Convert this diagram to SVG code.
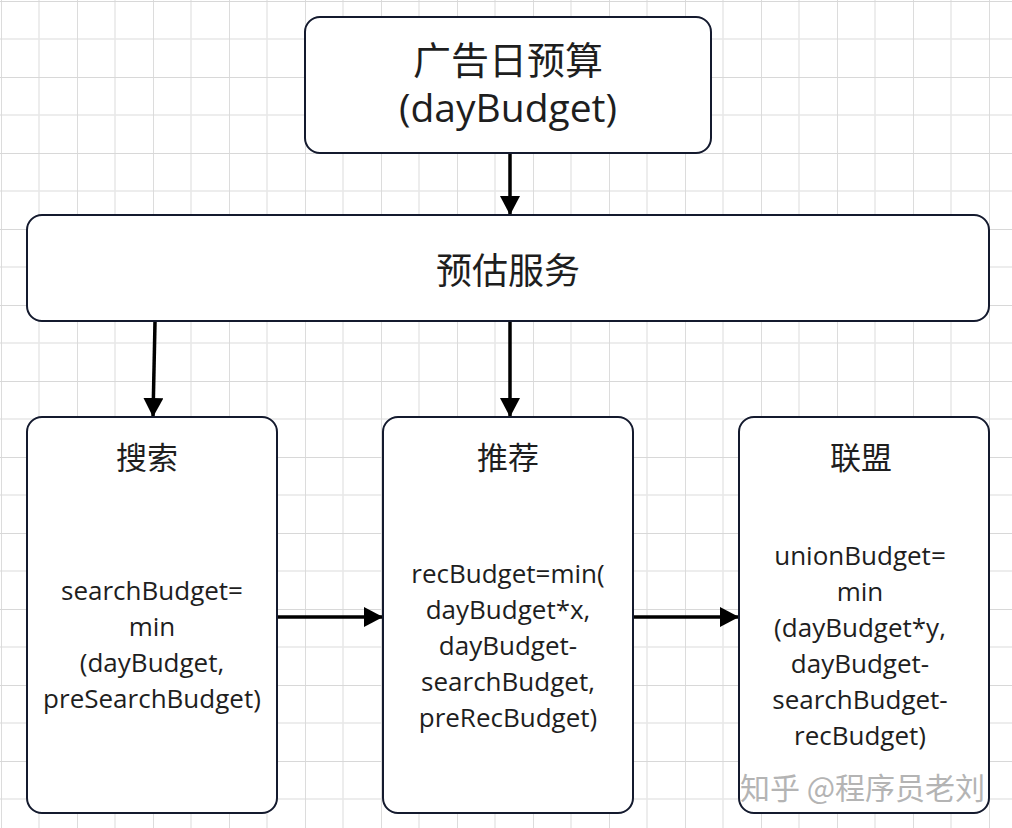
<svg xmlns="http://www.w3.org/2000/svg" width="1012" height="828" viewBox="0 0 1012 828">
  <style>
    .box { fill: #ffffff; stroke: #141a2e; stroke-width: 2; }
    .t { font-family: "Open Sans", "Noto Sans CJK SC", sans-serif; fill: #1e1e1e; text-anchor: middle; }
    .title { font-size: 38px; }
    .head { font-size: 31px; }
    .body { font-size: 26px; }
    .conn { stroke: #000; stroke-width: 3.5; fill: none; }
    .wm { font-family: "Noto Sans CJK SC", sans-serif; font-size: 30px; fill: #b4b4b4; }
  </style>
  <defs>
    <pattern id="grid" x="1" y="1" width="76" height="76" patternUnits="userSpaceOnUse">
      <path d="M38 0 V76 M0 38 H76" stroke="#e8e8e8" stroke-width="1.5" fill="none"/>
      <path d="M0 0 V76 M0 0 H76" stroke="#d8d8d8" stroke-width="1.8" fill="none"/>
    </pattern>
    <marker id="arrow" markerUnits="userSpaceOnUse" markerWidth="22" markerHeight="22" refX="19" refY="10" orient="auto">
      <path d="M0 0 L19 10 L0 20 Z" fill="#000"/>
    </marker>
  </defs>
  <rect width="1012" height="828" fill="#ffffff"/>
  <rect width="1012" height="828" fill="url(#grid)"/>

  <g id="connectors">
    <line class="conn" x1="510" y1="154" x2="510" y2="215" marker-end="url(#arrow)"/>
    <line class="conn" x1="155" y1="322" x2="153" y2="417" marker-end="url(#arrow)"/>
    <line class="conn" x1="510" y1="322" x2="510" y2="417" marker-end="url(#arrow)"/>
    <line class="conn" x1="278" y1="617" x2="383" y2="617" marker-end="url(#arrow)"/>
    <line class="conn" x1="634" y1="617" x2="739" y2="617" marker-end="url(#arrow)"/>
  </g>

  <g id="node-daybudget">
    <rect class="box" x="305" y="17" width="406" height="136" rx="15"/>
    <text class="t title"><tspan x="508" y="74">广告日预算</tspan><tspan x="508" y="122" style="font-size:39px">(dayBudget)</tspan></text>
  </g>

  <g id="node-service">
    <rect class="box" x="27" y="215" width="962" height="106" rx="15"/>
    <text class="t title" x="508" y="284" style="font-size:36px">预估服务</text>
  </g>

  <g id="node-search">
    <rect class="box" x="27" y="417" width="250" height="396" rx="15"/>
    <text class="t head" x="147" y="469">搜索</text>
    <text class="t body" x="152" y="600">searchBudget=</text>
    <text class="t body" x="152" y="636">min</text>
    <text class="t body" x="152" y="672">(dayBudget,</text>
    <text class="t body" x="152" y="708">preSearchBudget)</text>
  </g>

  <g id="node-rec">
    <rect class="box" x="383" y="417" width="250" height="396" rx="15"/>
    <text class="t head" x="508" y="469">推荐</text>
    <text class="t body" x="508" y="583">recBudget=min(</text>
    <text class="t body" x="508" y="619">dayBudget*x,</text>
    <text class="t body" x="508" y="655">dayBudget-</text>
    <text class="t body" x="508" y="691">searchBudget,</text>
    <text class="t body" x="508" y="727">preRecBudget)</text>
  </g>

  <g id="node-union">
    <rect class="box" x="739" y="417" width="250" height="396" rx="15"/>
    <text class="t head" x="861" y="469">联盟</text>
    <text class="t body" x="860" y="565">unionBudget=</text>
    <text class="t body" x="860" y="601">min</text>
    <text class="t body" x="860" y="637">(dayBudget*y,</text>
    <text class="t body" x="860" y="673">dayBudget-</text>
    <text class="t body" x="860" y="709">searchBudget-</text>
    <text class="t body" x="860" y="745">recBudget)</text>
  </g>

  <g id="watermark">
    <text class="wm" x="741" y="800" style="fill:#ffffff">知乎 @程序员老刘</text>
    <text class="wm" x="740" y="799">知乎 @程序员老刘</text>
  </g>
</svg>
